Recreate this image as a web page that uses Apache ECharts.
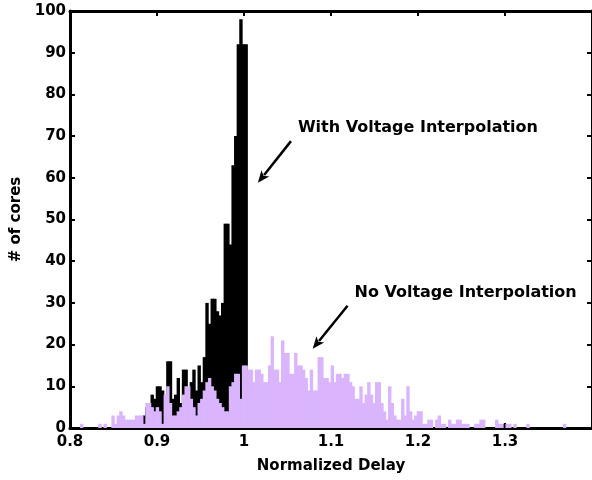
<!DOCTYPE html>
<html>
<head>
<meta charset="utf-8">
<title>Normalized Delay Histogram</title>
<script src="https://cdn.jsdelivr.net/npm/echarts@6/dist/echarts.min.js"></script>
<style>
  html, body { margin: 0; padding: 0; background: #ffffff; }
  #chart { width: 592px; height: 480px; }
</style>
</head>
<body>
<div id="chart"></div>
<script>
// Histogram bins along the normalized delay axis
const binStart = 0.8;
const binWidth = 0.003;
const binCount = 200;
const delayBins = Array.from({ length: binCount }, (_, i) => (binStart + (i + 0.5) * binWidth).toFixed(4));

// Core counts per bin, with voltage interpolation
const withInterp = [
  0, 0, 0, 0, 0, 0, 0, 0, 0, 0,
  0, 0, 0, 0, 0, 0, 0, 0, 0, 0,
  0, 0, 0, 0, 0, 0, 0, 0, 3, 5,
  5, 8, 7, 10, 10, 9, 6, 16, 16, 7,
  8, 12, 6, 14, 14, 8, 11, 14, 9, 15,
  11, 17, 30, 25, 31, 31, 28, 27, 30, 49,
  49, 44, 63, 70, 92, 98, 92, 92, 0, 0,
  0, 0, 0, 0, 0, 0, 0, 0, 0, 0,
  0, 0, 0, 0, 0, 0, 0, 0, 0, 0,
  0, 0, 0, 0, 0, 0, 0, 0, 0, 0,
  0, 0, 0, 0, 0, 0, 0, 0, 0, 0,
  0, 0, 0, 0, 0, 0, 0, 0, 0, 0,
  0, 0, 0, 0, 0, 0, 0, 0, 0, 0,
  0, 0, 0, 0, 0, 0, 0, 0, 0, 0,
  0, 0, 0, 0, 0, 0, 0, 0, 0, 0,
  0, 0, 0, 0, 0, 0, 0, 0, 0, 0,
  0, 0, 0, 0, 0, 0, 1, 0, 0, 0,
  0, 0, 0, 0, 0, 0, 0, 0, 0, 0,
  0, 0, 0, 0, 0, 0, 0, 0, 0, 0,
  0, 0, 0, 0, 0, 0, 0, 0, 0, 0
];

// Core counts per bin, without voltage interpolation
const noInterp = [
  0, 0, 0, 0, 1, 0, 0, 0, 0, 0,
  0, 1, 0, 1, 0, 0, 3, 1, 3, 4,
  3, 2, 2, 2, 2, 3, 3, 3, 1, 6,
  6, 5, 4, 5, 4, 1, 8, 10, 6, 3,
  3, 4, 5, 8, 10, 10, 7, 5, 3, 6,
  7, 9, 11, 12, 10, 9, 7, 6, 5, 4,
  4, 10, 11, 13, 13, 7, 15, 15, 14, 14,
  11, 14, 14, 13, 11, 11, 15, 22, 14, 14,
  11, 21, 18, 18, 13, 13, 18, 15, 15, 14,
  12, 9, 14, 9, 9, 17, 17, 12, 12, 11,
  15, 11, 13, 13, 12, 13, 13, 11, 10, 7,
  7, 10, 6, 8, 11, 8, 6, 11, 11, 6,
  4, 2, 10, 6, 3, 2, 2, 7, 3, 10,
  4, 2, 3, 4, 4, 1, 1, 2, 2, 0,
  2, 3, 1, 1, 0, 2, 1, 1, 2, 2,
  1, 1, 1, 0, 0, 1, 1, 2, 2, 0,
  0, 0, 0, 2, 1, 1, 0, 1, 1, 0,
  1, 0, 0, 0, 0, 1, 0, 0, 0, 0,
  0, 0, 0, 0, 0, 0, 0, 0, 0, 1,
  0, 0, 0, 0, 0, 0, 0, 0, 0, 0
];

// Callout labels and arrows, in data coordinates [delay, cores]
const callouts = [
  { text: 'With Voltage Interpolation', at: [1.062, 71.9], from: [1.054, 68.8], to: [1.016, 58.8] },
  { text: 'No Voltage Interpolation', at: [1.127, 32.3], from: [1.119, 29.3], to: [1.079, 19.0] }
];

const FONT = '"DejaVu Sans", "Liberation Sans", Arial, sans-serif';
const BLACK = '#000000';
const LAVENDER = '#dab5fd';

const chart = echarts.init(document.getElementById('chart'), null, { renderer: 'canvas' });

const labelStyle = { color: BLACK, fontFamily: FONT, fontWeight: 'bold', fontSize: 15 };
const boxLine = { show: true, onZero: false, lineStyle: { color: BLACK, width: 3 } };
const innerTick = { show: true, inside: true, length: 5, lineStyle: { color: BLACK, width: 2 } };

chart.setOption({
  animation: false,
  backgroundColor: '#ffffff',
  grid: { left: 70, top: 11, width: 524, height: 417, containLabel: false },
  xAxis: [
    {
      type: 'value', position: 'bottom', min: 0.8, max: 1.4, interval: 0.1,
      axisLine: boxLine, axisTick: innerTick,
      axisLabel: Object.assign({ margin: 7, showMaxLabel: false }, labelStyle),
      splitLine: { show: false },
      name: 'Normalized Delay', nameLocation: 'middle', nameGap: 31,
      nameTextStyle: labelStyle
    },
    {
      type: 'value', position: 'top', min: 0.8, max: 1.4, interval: 0.1,
      axisLine: boxLine, axisTick: innerTick,
      axisLabel: { show: false }, splitLine: { show: false }
    },
    {
      type: 'category', position: 'bottom', data: delayBins, show: false, boundaryGap: true
    }
  ],
  yAxis: [
    {
      type: 'value', position: 'left', min: 0, max: 100, interval: 10,
      axisLine: boxLine, axisTick: innerTick,
      axisLabel: Object.assign({ margin: 4 }, labelStyle),
      splitLine: { show: false },
      name: '# of cores', nameLocation: 'middle', nameGap: 41, nameRotate: 90,
      nameTextStyle: labelStyle
    },
    {
      type: 'value', position: 'right', min: 0, max: 100, interval: 10,
      axisLine: boxLine, axisTick: innerTick,
      axisLabel: { show: false }, splitLine: { show: false }
    }
  ],
  series: [
    {
      name: 'With Voltage Interpolation', type: 'bar', xAxisIndex: 2, yAxisIndex: 0,
      data: withInterp, barWidth: '130%', barGap: '-100%',
      itemStyle: { color: BLACK },
      emphasis: { disabled: true }
    },
    {
      name: 'No Voltage Interpolation', type: 'bar', xAxisIndex: 2, yAxisIndex: 0,
      data: noInterp, barWidth: '130%', barGap: '-100%',
      itemStyle: { color: LAVENDER },
      emphasis: { disabled: true }
    }
  ]
});

// Place the callouts through the axis scales
function toPx(pt) {
  return chart.convertToPixel({ xAxisIndex: 0, yAxisIndex: 0 }, pt);
}
const graphics = [];
callouts.forEach(c => {
  const at = toPx(c.at);
  const p0 = toPx(c.from);
  const p1 = toPx(c.to);
  const dx = p1[0] - p0[0], dy = p1[1] - p0[1];
  const len = Math.hypot(dx, dy);
  const ux = dx / len, uy = dy / len;
  const headLen = 12, headHalf = 5;
  const bx = p1[0] - ux * headLen, by = p1[1] - uy * headLen;
  const nx = -uy, ny = ux;
  graphics.push({
    type: 'line', silent: true,
    shape: { x1: p0[0], y1: p0[1], x2: bx + ux * 2, y2: by + uy * 2 },
    style: { stroke: BLACK, lineWidth: 2.5 }
  });
  graphics.push({
    type: 'polygon', silent: true,
    shape: { points: [
      [p1[0], p1[1]],
      [bx + nx * headHalf, by + ny * headHalf],
      [bx + ux * 3, by + uy * 3],
      [bx - nx * headHalf, by - ny * headHalf]
    ] },
    style: { fill: BLACK }
  });
  graphics.push({
    type: 'text', silent: true, x: at[0], y: at[1],
    style: {
      text: c.text, fill: BLACK, fontFamily: FONT, fontWeight: 'bold', fontSize: 16,
      align: 'left', verticalAlign: 'middle'
    }
  });
});
chart.setOption({ graphic: graphics });
</script>
</body>
</html>
